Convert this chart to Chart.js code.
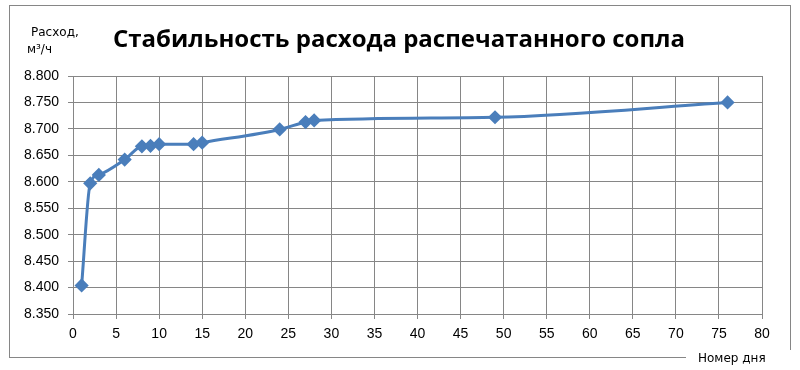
<!DOCTYPE html>
<html>
<head>
<meta charset="utf-8">
<script src="https://cdn.jsdelivr.net/npm/chart.js"></script>
<style>
  body { margin: 0; background: #fff; }
  #wrap { position: relative; width: 800px; height: 370px; }
</style>
</head>
<body>
<div id="wrap"><canvas id="myChart" width="800" height="370"></canvas></div>
<script>
// days and measured flow
var days = [1, 2, 3, 6, 8, 9, 10, 14, 15, 24, 27, 28, 49, 76];
var flow = [8.404, 8.597, 8.613, 8.642, 8.667, 8.668, 8.671, 8.671, 8.674, 8.699, 8.713, 8.716, 8.722, 8.750];

var chartTitle = 'Стабильность расхода распечатанного сопла';
var yLabel = ['Расход,', 'м³/ч'];
var xLabel = 'Номер дня';

var gridColor = '#868686';
var tickFont = { family: 'Liberation Sans', size: 14 };

// frame, title and axis captions
var decor = {
    id: 'decor',
    afterDraw: function(chart) {
        var c = chart.ctx;
        c.save();
        c.strokeStyle = gridColor;
        c.lineWidth = 1;
        c.strokeRect(9.5, 5.5, 781, 352);

        c.fillStyle = '#000';
        c.font = 'bold 24px "Open Sans"';
        c.textAlign = 'center';
        c.textBaseline = 'middle';
        c.fillText(chartTitle, 399, 40);

        c.font = '12px "DejaVu Sans"';
        c.textAlign = 'left';
        c.fillText(yLabel[0], 31, 33);
        c.fillText(yLabel[1], 27, 50);

        c.fillStyle = '#fff';
        c.fillRect(686, 350, 110, 18);
        c.fillStyle = '#000';
        c.fillText(xLabel, 698, 359);
        c.restore();
    }
};

var ctx = document.getElementById('myChart').getContext('2d');
var chart = new Chart(ctx, {
    type: 'line',
    data: {
        datasets: [{
            data: days.map(function(d, i) { return { x: d, y: flow[i] }; }),
            borderColor: '#4a7ebb',
            backgroundColor: '#4a7ebb',
            borderWidth: 3,
            pointStyle: 'rectRot',
            pointRadius: 5,
            pointHoverRadius: 5,
            cubicInterpolationMode: 'monotone'
        }]
    },
    options: {
        responsive: false,
        animation: false,
        layout: { padding: { left: 10, right: 38, top: 76, bottom: 13 } },
        plugins: { legend: { display: false }, tooltip: { enabled: false } },
        scales: {
            x: {
                type: 'linear',
                min: 0,
                max: 80,
                ticks: { stepSize: 5, color: '#000', font: tickFont, padding: 7, maxRotation: 0 },
                grid: { color: gridColor, tickLength: 5 },
                border: { color: gridColor },
                afterFit: function(s) { s.height = 43; }
            },
            y: {
                min: 8.35,
                max: 8.8,
                ticks: {
                    stepSize: 0.05,
                    color: '#000',
                    font: tickFont,
                    padding: 9,
                    callback: function(v) { return v.toFixed(3); }
                },
                grid: { color: gridColor, tickLength: 5 },
                border: { color: gridColor },
                afterFit: function(s) { s.width = 63; }
            }
        }
    },
    plugins: [decor]
});
</script>
</body>
</html>
